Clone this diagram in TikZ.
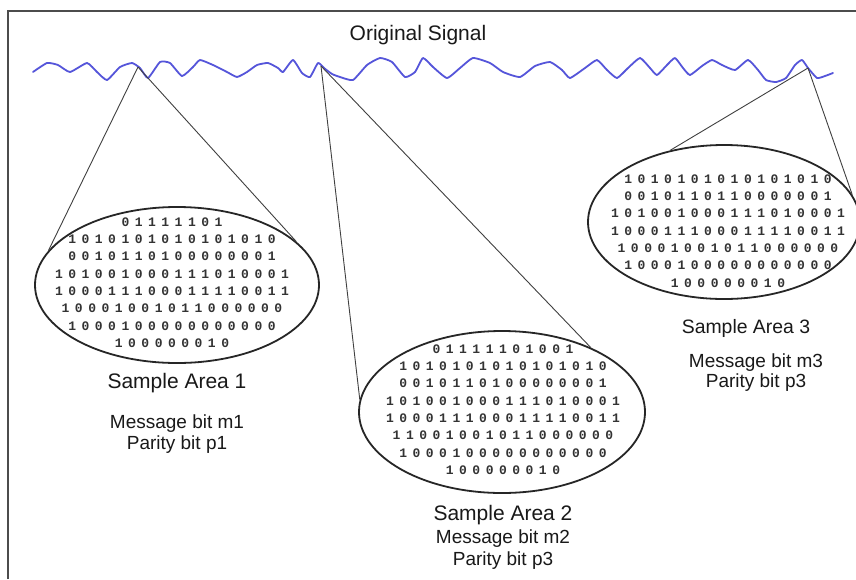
\documentclass[tikz,border=0pt]{standalone}
\usepackage{fontspec}
\setmainfont{Liberation Sans}
\newfontfamily\bitfont{Liberation Mono}
\usetikzlibrary{shapes.geometric}

% fixed-pitch, widely spaced binary digits
\newlength\bitpitch
\setlength\bitpitch{13.3pt}
\newcommand\bitrow[1]{\bitloop#1\relax}
\def\bitloop#1{\ifx\relax#1\else\makebox[\bitpitch]{#1}\expandafter\bitloop\fi}

\definecolor{signalblue}{RGB}{85,85,218}

\begin{document}
\begin{tikzpicture}[x=1pt,y=-1pt,
  frame/.style={draw=black!70, line width=2pt},
  wave/.style={draw=signalblue, line width=1.8pt, line join=round, line cap=round},
  area/.style={ellipse, draw=black!85, line width=1.8pt, inner sep=0pt},
  ray/.style={draw=black!75, line width=0.9pt},
  bits/.style={font=\bitfont\bfseries\fontsize{13}{17.3}\selectfont, align=center, inner sep=0pt, text=black!80},
  heading/.style={font=\fontsize{21}{24}\selectfont, anchor=base, inner sep=0pt, text=black!90},
  caption/.style={font=\fontsize{19}{22}\selectfont, anchor=base, inner sep=0pt, text=black!90}]

\useasboundingbox (0,0) rectangle (856,579);
\fill[white] (0,0) rectangle (856,579);

% frame edges
\draw[frame] (8,579) -- (8,11) -- (856,11);

% title
\node[heading] (title) at (418,40) {Original Signal};

% the sampled signal
\draw[wave] plot[smooth, tension=0.3] coordinates {
  (33,72) (47,63) (58,65) (70,72) (87,63) (97,72) (107,80) (120,67) (132,63)
  (140,68) (148,78) (160,62) (170,63) (182,76) (193,67) (200,60) (213,65)
  (227,72) (237,77) (247,72) (257,65) (268,63) (278,68) (283,72) (293,60)
  (302,73) (310,77) (318,63) (324,68) (332,74) (340,77) (353,80) (367,65)
  (380,58) (392,62) (405,77) (415,72) (423,58) (433,67) (447,78) (460,68)
  (473,58) (490,63) (503,72) (520,77) (535,66) (550,62) (562,70) (570,78)
  (585,68) (597,60) (607,70) (617,78) (628,68) (640,58) (650,68) (657,75)
  (667,65) (675,58) (683,68) (690,75) (702,66) (712,60) (722,65) (735,70)
  (748,60) (758,70) (766,80) (776,82) (786,78) (795,65) (802,60) (808,68)
  (817,78) (825,76) (833,73)};

% sampling points on the signal
\coordinate (s1) at (138,67);
\coordinate (s2) at (321,66);
\coordinate (s3) at (808,68);

% sample areas
\node[area, minimum width=284pt, minimum height=156pt] (e1) at (177,285) {};
\node[area, minimum width=286pt, minimum height=162pt] (e2) at (502,412) {};
\node[area, minimum width=272pt, minimum height=154pt] (e3) at (724,222) {};

% zoom rays
\draw[ray] (s1) -- (e1.165);
\draw[ray] (s1) -- (e1.20);
\draw[ray] (s2) -- (e2.175);
\draw[ray] (s2) -- (e2.36);
\draw[ray] (s3) -- (e3.127);
\draw[ray] (s3) -- (e3.12);

% bit contents
\node[bits] (b1) at (172,282.5) {%
  \bitrow{01111101}\\
  \bitrow{1010101010101010}\\
  \bitrow{0010110100000001}\\
  \bitrow{101001000111010001}\\
  \bitrow{100011100011110011}\\
  \bitrow{10001001011000000}\\
  \bitrow{1000100000000000}\\
  \bitrow{100000010}};
\node[bits] (b2) at (503,409.5) {%
  \bitrow{01111101001}\\
  \bitrow{1010101010101010}\\
  \bitrow{0010110100000001}\\
  \bitrow{101001000111010001}\\
  \bitrow{100011100011110011}\\
  \bitrow{11001001011000000}\\
  \bitrow{1000100000000000}\\
  \bitrow{100000010}};
\node[bits] (b3) at (728,231) {%
  \bitrow{1010101010101010}\\
  \bitrow{0010110110000001}\\
  \bitrow{101001000111010001}\\
  \bitrow{100011100011110011}\\
  \bitrow{10001001011000000}\\
  \bitrow{1000100000000000}\\
  \bitrow{100000010}};

% captions
\node[heading] (sa1) at (177,388) {Sample Area 1};
\node[caption] (mb1) at (177,428) {Message bit m1};
\node[caption] (pb1) at (177,449) {Parity bit p1};

\node[heading] (sa2) at (503,520) {Sample Area 2};
\node[caption] (mb2) at (503,543) {Message bit m2};
\node[caption] (pb2) at (503,565) {Parity bit p3};

\node[heading, font=\fontsize{19.4}{22}\selectfont] (sa3) at (746,333) {Sample Area 3};
\node[caption] (mb3) at (756,367) {Message bit m3};
\node[caption] (pb3) at (756,387) {Parity bit p3};
\end{tikzpicture}
\end{document}
